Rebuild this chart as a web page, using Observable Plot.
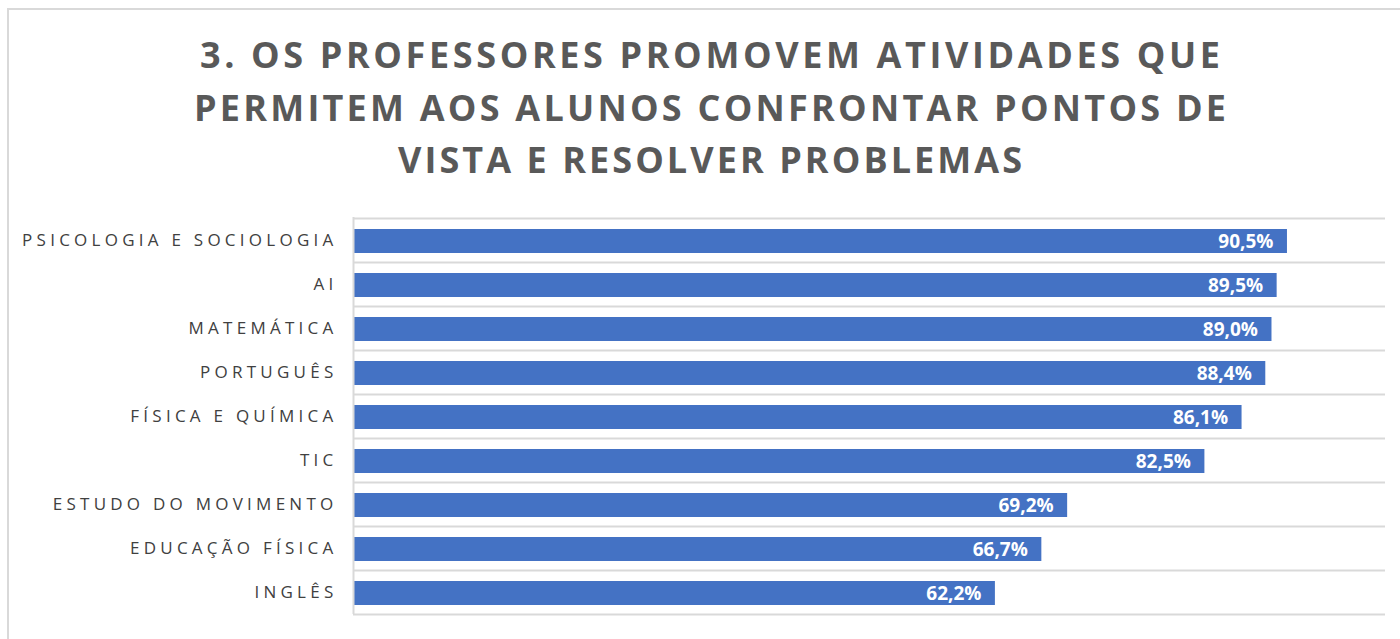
<!DOCTYPE html>
<html>
<head>
<meta charset="utf-8">
<script src="https://cdn.jsdelivr.net/npm/d3@7"></script>
<script src="https://cdn.jsdelivr.net/npm/@observablehq/plot@0.6"></script>
<style>
  html, body { margin: 0; padding: 0; background: #fff; }
  body { width: 1400px; height: 639px; position: relative; overflow: hidden; font-family: "Open Sans", sans-serif; }
  #frame { position: absolute; left: 7px; top: 8px; width: 1420px; height: 700px; border: 2px solid #d9d9d9; box-sizing: border-box; }
  #title { position: absolute; left: 0; top: 29px; width: 1420px; text-align: center; color: #595959; font-weight: 700; font-size: 36px; line-height: 52.5px; }
  #title .line { display: block; white-space: pre; }
  #title .line span { display: inline-block; }
  #chart { position: absolute; left: 0; top: 200px; }
</style>
</head>
<body>
<div id="frame"></div>
<div id="title"></div>
<div id="chart"></div>
<script>
const titleLines = [
  "3. OS PROFESSORES PROMOVEM ATIVIDADES QUE",
  "PERMITEM AOS ALUNOS CONFRONTAR PONTOS DE",
  "VISTA E RESOLVER PROBLEMAS"
];
const titleWidths = [1020, 1032, 624];

const categories = [
  "PSICOLOGIA E SOCIOLOGIA",
  "AI",
  "MATEMÁTICA",
  "PORTUGUÊS",
  "FÍSICA E QUÍMICA",
  "TIC",
  "ESTUDO DO MOVIMENTO",
  "EDUCAÇÃO FÍSICA",
  "INGLÊS"
];
const values = [90.5, 89.5, 89.0, 88.4, 86.1, 82.5, 69.2, 66.7, 62.2];

const data = categories.map((c, i) => ({category: c, value: values[i]}));
const fmt = v => v.toFixed(1).replace(".", ",") + "%";

// Title with letter-spacing fitted to the reference line widths
const titleEl = document.getElementById("title");
titleLines.forEach((t, i) => {
  const line = document.createElement("div");
  line.className = "line";
  const span = document.createElement("span");
  span.textContent = t;
  line.appendChild(span);
  titleEl.appendChild(line);
  const w = span.getBoundingClientRect().width;
  const ls = (titleWidths[i] - w) / (t.length - 1);
  span.style.letterSpacing = ls + "px";
  span.style.marginRight = (-ls) + "px";
});

const W = 1400, H = 430, mT = 17, mB = 16;
const bw = (H - mT - mB) / categories.length;

const plot = Plot.plot({
  width: W,
  height: H,
  marginLeft: 353,
  marginRight: 15,
  marginTop: mT,
  marginBottom: mB,
  style: {fontFamily: "'Open Sans', sans-serif", background: "transparent"},
  x: {domain: [0, 100], axis: null},
  y: {domain: categories, padding: 0, axis: null},
  marks: [
    Plot.ruleY(categories, {y: d => d, dy: -bw / 2, stroke: "#d9d9d9", strokeWidth: 2}),
    Plot.ruleY(categories.slice(-1), {y: d => d, dy: bw / 2, stroke: "#d9d9d9", strokeWidth: 2}),
    Plot.barX(data, {x: "value", y: "category", fill: "#4472C4", insetTop: 11, insetBottom: 9}),
    Plot.ruleX([0], {stroke: "#d9d9d9", strokeWidth: 2}),
    Plot.text(data, {x: "value", y: "category", text: d => fmt(d.value), textAnchor: "end", dx: -14, dy: 1, fill: "white", fontWeight: "bold", fontSize: 19}),
    Plot.axisY({tickSize: 0, tickPadding: 16, fontSize: 17, fill: "#404040", label: null})
  ]
});
document.getElementById("chart").appendChild(plot);
d3.select(plot).selectAll("[aria-label='y-axis tick label'] text").style("letter-spacing", "4.25px");
</script>
</body>
</html>
